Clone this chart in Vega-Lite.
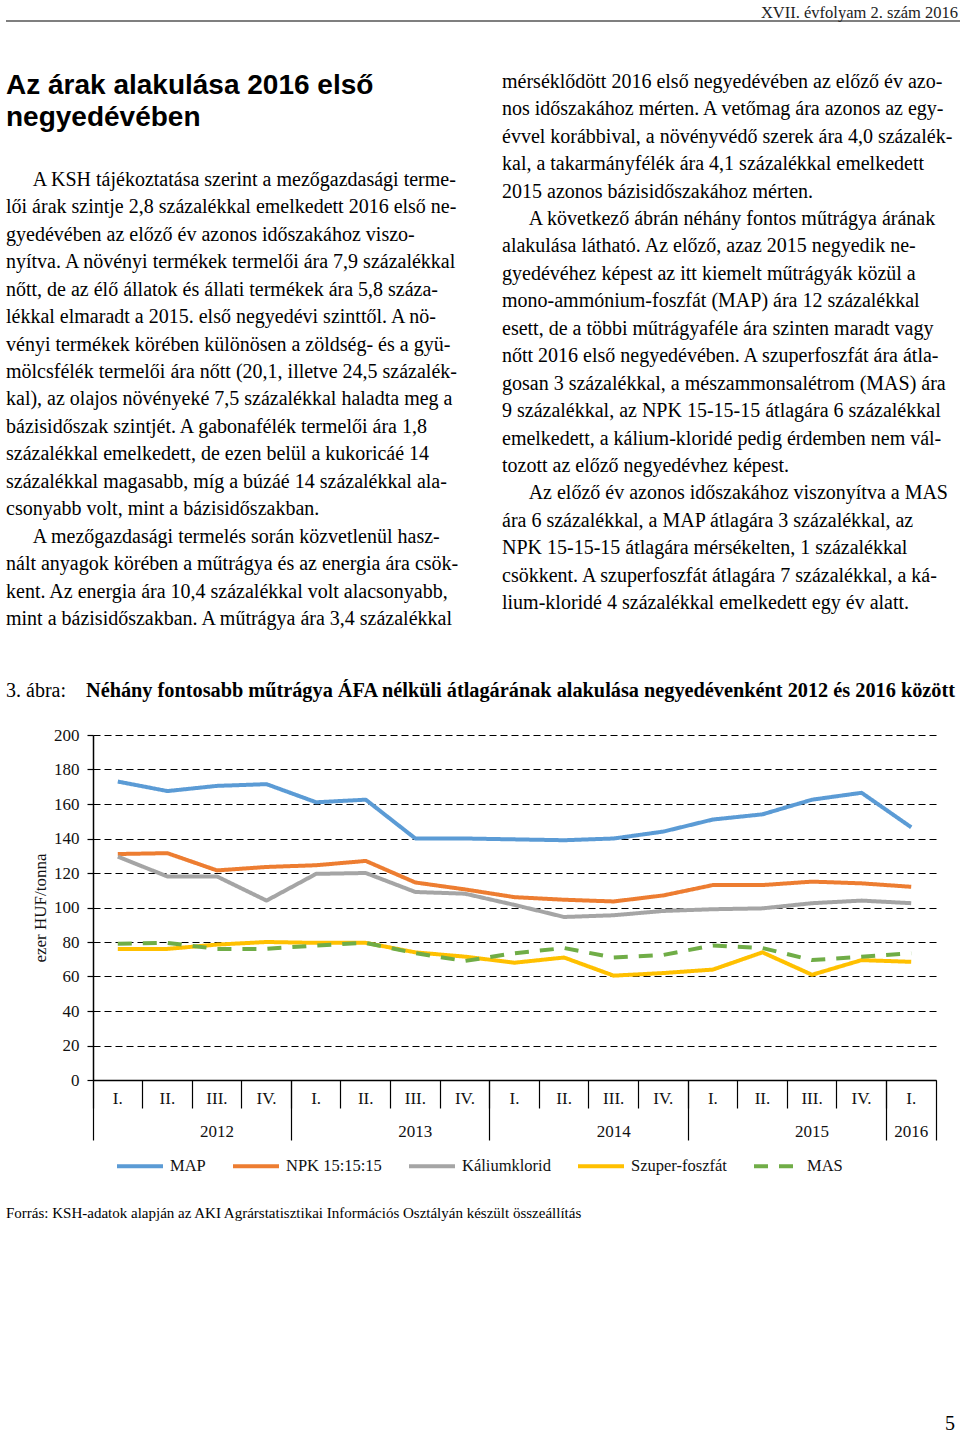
{
  "$schema": "https://vega.github.io/schema/vega-lite/v6.json",
  "padding": {"left": 5, "top": 0, "right": 0, "bottom": 0},
  "background": "white",
  "spacing": 0,
  "bounds": "full",
  "config": {"view": {"stroke": null}, "font": "Liberation Serif"},
  "datasets": {
    "header": [{"text": "XVII. évfolyam 2. szám 2016"}],
    "title": [
      {"line": 1, "text": "Az árak alakulása 2016 első"},
      {"line": 2, "text": "negyedévében"}
    ],
    "left": [
      {"line": 1, "text": "\u200b\u2003\u2004A KSH tájékoztatása szerint a mezőgazdasági terme-"},
      {"line": 2, "text": "lői árak szintje 2,8 százalékkal emelkedett 2016 első ne-"},
      {"line": 3, "text": "gyedévében az előző év azonos időszakához viszo-"},
      {"line": 4, "text": "nyítva. A növényi termékek termelői ára 7,9 százalékkal"},
      {"line": 5, "text": "nőtt, de az élő állatok és állati termékek ára 5,8 száza-"},
      {"line": 6, "text": "lékkal elmaradt a 2015. első negyedévi szinttől. A nö-"},
      {"line": 7, "text": "vényi termékek körében különösen a zöldség- és a gyü-"},
      {"line": 8, "text": "mölcsfélék termelői ára nőtt (20,1, illetve 24,5 százalék-"},
      {"line": 9, "text": "kal), az olajos növényeké 7,5 százalékkal haladta meg a"},
      {"line": 10, "text": "bázisidőszak szintjét. A gabonafélék termelői ára 1,8"},
      {"line": 11, "text": "százalékkal emelkedett, de ezen belül a kukoricáé 14"},
      {"line": 12, "text": "százalékkal magasabb, míg a búzáé 14 százalékkal ala-"},
      {"line": 13, "text": "csonyabb volt, mint a bázisidőszakban."},
      {"line": 14, "text": "\u200b\u2003\u2004A mezőgazdasági termelés során közvetlenül hasz-"},
      {"line": 15, "text": "nált anyagok körében a műtrágya és az energia ára csök-"},
      {"line": 16, "text": "kent. Az energia ára 10,4 százalékkal volt alacsonyabb,"},
      {"line": 17, "text": "mint a bázisidőszakban. A műtrágya ára 3,4 százalékkal"}
    ],
    "right": [
      {"line": 1, "text": "mérséklődött 2016 első negyedévében az előző év azo-"},
      {"line": 2, "text": "nos időszakához mérten. A vetőmag ára azonos az egy-"},
      {"line": 3, "text": "évvel korábbival, a növényvédő szerek ára 4,0 százalék-"},
      {"line": 4, "text": "kal, a takarmányfélék ára 4,1 százalékkal emelkedett"},
      {"line": 5, "text": "2015 azonos bázisidőszakához mérten."},
      {"line": 6, "text": "\u200b\u2003\u2004A következő ábrán néhány fontos műtrágya árának"},
      {"line": 7, "text": "alakulása látható. Az előző, azaz 2015 negyedik ne-"},
      {"line": 8, "text": "gyedévéhez képest az itt kiemelt műtrágyák közül a"},
      {"line": 9, "text": "mono-ammónium-foszfát (MAP) ára 12 százalékkal"},
      {"line": 10, "text": "esett, de a többi műtrágyaféle ára szinten maradt vagy"},
      {"line": 11, "text": "nőtt 2016 első negyedévében. A szuperfoszfát ára átla-"},
      {"line": 12, "text": "gosan 3 százalékkal, a mészammonsalétrom (MAS) ára"},
      {"line": 13, "text": "9 százalékkal, az NPK 15-15-15 átlagára 6 százalékkal"},
      {"line": 14, "text": "emelkedett, a kálium-kloridé pedig érdemben nem vál-"},
      {"line": 15, "text": "tozott az előző negyedévhez képest."},
      {"line": 16, "text": "\u200b\u2003\u2004Az előző év azonos időszakához viszonyítva a MAS"},
      {"line": 17, "text": "ára 6 százalékkal, a MAP átlagára 3 százalékkal, az"},
      {"line": 18, "text": "NPK 15-15-15 átlagára mérsékelten, 1 százalékkal"},
      {"line": 19, "text": "csökkent. A szuperfoszfát átlagára 7 százalékkal, a ká-"},
      {"line": 20, "text": "lium-kloridé 4 százalékkal emelkedett egy év alatt."}
    ],
    "prices": [
      {"period": "2012-I", "series": "MAP", "value": 173},
      {"period": "2012-II", "series": "MAP", "value": 167.5},
      {"period": "2012-III", "series": "MAP", "value": 170.5},
      {"period": "2012-IV", "series": "MAP", "value": 171.5},
      {"period": "2013-I", "series": "MAP", "value": 161},
      {"period": "2013-II", "series": "MAP", "value": 162.5},
      {"period": "2013-III", "series": "MAP", "value": 140},
      {"period": "2013-IV", "series": "MAP", "value": 140},
      {"period": "2014-I", "series": "MAP", "value": 139.5},
      {"period": "2014-II", "series": "MAP", "value": 139},
      {"period": "2014-III", "series": "MAP", "value": 140},
      {"period": "2014-IV", "series": "MAP", "value": 144},
      {"period": "2015-I", "series": "MAP", "value": 151},
      {"period": "2015-II", "series": "MAP", "value": 154},
      {"period": "2015-III", "series": "MAP", "value": 162.5},
      {"period": "2015-IV", "series": "MAP", "value": 166.5},
      {"period": "2016-I", "series": "MAP", "value": 146.5},
      {"period": "2012-I", "series": "NPK 15:15:15", "value": 131},
      {"period": "2012-II", "series": "NPK 15:15:15", "value": 131.5},
      {"period": "2012-III", "series": "NPK 15:15:15", "value": 121.5},
      {"period": "2012-IV", "series": "NPK 15:15:15", "value": 123.5},
      {"period": "2013-I", "series": "NPK 15:15:15", "value": 124.5},
      {"period": "2013-II", "series": "NPK 15:15:15", "value": 127},
      {"period": "2013-III", "series": "NPK 15:15:15", "value": 114.5},
      {"period": "2013-IV", "series": "NPK 15:15:15", "value": 110.5},
      {"period": "2014-I", "series": "NPK 15:15:15", "value": 106},
      {"period": "2014-II", "series": "NPK 15:15:15", "value": 104.5},
      {"period": "2014-III", "series": "NPK 15:15:15", "value": 103.5},
      {"period": "2014-IV", "series": "NPK 15:15:15", "value": 107},
      {"period": "2015-I", "series": "NPK 15:15:15", "value": 113},
      {"period": "2015-II", "series": "NPK 15:15:15", "value": 113},
      {"period": "2015-III", "series": "NPK 15:15:15", "value": 115},
      {"period": "2015-IV", "series": "NPK 15:15:15", "value": 114},
      {"period": "2016-I", "series": "NPK 15:15:15", "value": 112},
      {"period": "2012-I", "series": "Káliumklorid", "value": 129.5},
      {"period": "2012-II", "series": "Káliumklorid", "value": 118},
      {"period": "2012-III", "series": "Káliumklorid", "value": 118},
      {"period": "2012-IV", "series": "Káliumklorid", "value": 104},
      {"period": "2013-I", "series": "Káliumklorid", "value": 119.5},
      {"period": "2013-II", "series": "Káliumklorid", "value": 120},
      {"period": "2013-III", "series": "Káliumklorid", "value": 109},
      {"period": "2013-IV", "series": "Káliumklorid", "value": 108},
      {"period": "2014-I", "series": "Káliumklorid", "value": 101.5},
      {"period": "2014-II", "series": "Káliumklorid", "value": 94.5},
      {"period": "2014-III", "series": "Káliumklorid", "value": 95.5},
      {"period": "2014-IV", "series": "Káliumklorid", "value": 98},
      {"period": "2015-I", "series": "Káliumklorid", "value": 99},
      {"period": "2015-II", "series": "Káliumklorid", "value": 99.5},
      {"period": "2015-III", "series": "Káliumklorid", "value": 102.5},
      {"period": "2015-IV", "series": "Káliumklorid", "value": 104},
      {"period": "2016-I", "series": "Káliumklorid", "value": 102.5},
      {"period": "2012-I", "series": "Szuper-foszfát", "value": 76},
      {"period": "2012-II", "series": "Szuper-foszfát", "value": 76},
      {"period": "2012-III", "series": "Szuper-foszfát", "value": 78.5},
      {"period": "2012-IV", "series": "Szuper-foszfát", "value": 80},
      {"period": "2013-I", "series": "Szuper-foszfát", "value": 79.5},
      {"period": "2013-II", "series": "Szuper-foszfát", "value": 79.5},
      {"period": "2013-III", "series": "Szuper-foszfát", "value": 74},
      {"period": "2013-IV", "series": "Szuper-foszfát", "value": 71.5},
      {"period": "2014-I", "series": "Szuper-foszfát", "value": 68},
      {"period": "2014-II", "series": "Szuper-foszfát", "value": 71},
      {"period": "2014-III", "series": "Szuper-foszfát", "value": 60.5},
      {"period": "2014-IV", "series": "Szuper-foszfát", "value": 62},
      {"period": "2015-I", "series": "Szuper-foszfát", "value": 64},
      {"period": "2015-II", "series": "Szuper-foszfát", "value": 74},
      {"period": "2015-III", "series": "Szuper-foszfát", "value": 61},
      {"period": "2015-IV", "series": "Szuper-foszfát", "value": 69.5},
      {"period": "2016-I", "series": "Szuper-foszfát", "value": 68.5},
      {"period": "2012-I", "series": "MAS", "value": 79},
      {"period": "2012-II", "series": "MAS", "value": 79.5},
      {"period": "2012-III", "series": "MAS", "value": 76},
      {"period": "2012-IV", "series": "MAS", "value": 76},
      {"period": "2013-I", "series": "MAS", "value": 78},
      {"period": "2013-II", "series": "MAS", "value": 79.5},
      {"period": "2013-III", "series": "MAS", "value": 73.5},
      {"period": "2013-IV", "series": "MAS", "value": 69},
      {"period": "2014-I", "series": "MAS", "value": 73.5},
      {"period": "2014-II", "series": "MAS", "value": 76.5},
      {"period": "2014-III", "series": "MAS", "value": 71},
      {"period": "2014-IV", "series": "MAS", "value": 72.5},
      {"period": "2015-I", "series": "MAS", "value": 78},
      {"period": "2015-II", "series": "MAS", "value": 76.5},
      {"period": "2015-III", "series": "MAS", "value": 69.5},
      {"period": "2015-IV", "series": "MAS", "value": 71.5},
      {"period": "2016-I", "series": "MAS", "value": 73.5}
    ]
  },
  "vconcat": [
    {
      "width": 955,
      "height": 21,
      "data": {"name": "header"},
      "layer": [
        {
          "mark": {"type": "rule", "color": "#555555", "strokeWidth": 1.5},
          "encoding": {
            "x": {"datum": 0, "type": "quantitative", "scale": {"domain": [0, 1]}, "axis": null},
            "x2": {"datum": 1},
            "y": {"datum": 0, "type": "quantitative", "scale": {"domain": [0, 1]}, "axis": null}
          }
        },
        {
          "mark": {"type": "text", "align": "right", "baseline": "bottom", "fontSize": 16.5, "color": "#222222", "dx": -3},
          "encoding": {
            "x": {"datum": 1, "type": "quantitative"},
            "y": {"datum": 0, "type": "quantitative"},
            "text": {"field": "text"}
          }
        }
      ]
    },
    {
      "width": 10,
      "height": 45.25,
      "data": {"values": []},
      "mark": "point"
    },
    {
      "spacing": 0,
      "bounds": "full",
      "hconcat": [
        {
          "spacing": 29.1,
          "bounds": "flush",
          "vconcat": [
            {
              "width": 496,
              "height": 68.47,
              "data": {"name": "title"},
              "mark": {"type": "text", "align": "left", "baseline": "middle", "font": "Liberation Sans", "fontSize": 28, "fontWeight": "bold", "color": "#000000"},
              "encoding": {
                "x": {"datum": 0, "type": "quantitative", "scale": {"domain": [0, 1]}, "axis": null},
                "y": {"field": "line", "type": "ordinal", "scale": {"padding": 0.58}, "axis": null},
                "text": {"field": "text"}
              }
            },
            {
              "width": 496,
              "height": 466.65,
              "data": {"name": "left"},
              "mark": {"type": "text", "align": "left", "baseline": "middle", "fontSize": 20, "color": "#000000"},
              "encoding": {
                "x": {"datum": 0, "type": "quantitative", "scale": {"domain": [0, 1]}, "axis": null},
                "y": {"field": "line", "type": "ordinal", "scale": {"padding": 0.5}, "axis": null},
                "text": {"field": "text"}
              }
            }
          ]
        },
        {
          "width": 459,
          "height": 549,
          "data": {"name": "right"},
          "mark": {"type": "text", "align": "left", "baseline": "middle", "fontSize": 20, "color": "#000000"},
          "encoding": {
            "x": {"datum": 0, "type": "quantitative", "scale": {"domain": [0, 1]}, "axis": null},
            "y": {"field": "line", "type": "ordinal", "scale": {"padding": 0.5}, "axis": null},
            "text": {"field": "text"}
          }
        }
      ]
    },
    {
      "spacing": 0,
      "bounds": "flush",
      "hconcat": [
        {
          "width": 80,
          "height": 67.78,
          "data": {"values": [{"text": "3. ábra:"}]},
          "mark": {"type": "text", "align": "left", "baseline": "bottom", "fontSize": 20, "color": "#000000"},
          "encoding": {
            "x": {"datum": 0, "type": "quantitative", "scale": {"domain": [0, 1]}, "axis": null},
            "y": {"datum": 0, "type": "quantitative", "scale": {"domain": [0, 1]}, "axis": null},
            "text": {"field": "text"}
          }
        },
        {
          "width": 875,
          "height": 67.78,
          "data": {"values": [{"text": "Néhány fontosabb műtrágya ÁFA nélküli átlagárának alakulása negyedévenként 2012 és 2016 között"}]},
          "mark": {"type": "text", "align": "left", "baseline": "bottom", "fontSize": 20.3, "fontWeight": "bold", "color": "#000000"},
          "encoding": {
            "x": {"datum": 0, "type": "quantitative", "scale": {"domain": [0, 1]}, "axis": null},
            "y": {"datum": 0, "type": "quantitative", "scale": {"domain": [0, 1]}, "axis": null},
            "text": {"field": "text"}
          }
        }
      ]
    },
    {
      "width": 10,
      "height": 23.5,
      "data": {"values": []},
      "mark": "point"
    },
    {
      "spacing": 0,
      "bounds": "flush",
      "hconcat": [
        {
          "width": 87,
          "height": 345,
          "data": {"values": []},
          "mark": "point"
        },
        {
          "width": 843,
          "height": 345,
          "data": {"name": "prices"},
          "resolve": {"axis": {"x": "independent"}},
          "encoding": {
            "y": {
              "field": "value",
              "type": "quantitative",
              "scale": {"domain": [0, 200]},
              "axis": {
                "orient": "left",
                "values": [0, 20, 40, 60, 80, 100, 120, 140, 160, 180, 200],
                "labelOverlap": false,
                "grid": true,
                "gridDash": [7, 4],
                "gridColor": "#000000",
                "gridWidth": 1.2,
                "domain": true,
                "domainColor": "#000000",
                "domainWidth": 1.5,
                "ticks": true,
                "tickColor": "#000000",
                "tickSize": 6,
                "tickWidth": 1.2,
                "labelFont": "Liberation Serif",
                "labelFontSize": 17,
                "labelColor": "#111111",
                "labelPadding": 8,
                "title": "ezer HUF/tonna",
                "titleFont": "Liberation Serif",
                "titleFontSize": 17,
                "titleFontWeight": "normal",
                "titleColor": "#111111",
                "titlePadding": 4
              }
            }
          },
          "layer": [
            {
              "mark": {"type": "line", "strokeWidth": 4, "strokeJoin": "round"},
              "encoding": {
                "x": {
                  "field": "period",
                  "type": "ordinal",
                  "scale": {
                    "type": "band",
                    "domain": ["2012-I", "2012-II", "2012-III", "2012-IV", "2013-I", "2013-II", "2013-III", "2013-IV", "2014-I", "2014-II", "2014-III", "2014-IV", "2015-I", "2015-II", "2015-III", "2015-IV", "2016-I"],
                    "paddingInner": 0,
                    "paddingOuter": 0
                  },
                  "axis": {
                    "orient": "bottom",
                    "title": null,
                    "domain": true,
                    "domainColor": "#000000",
                    "domainWidth": 1.5,
                    "ticks": false,
                    "grid": false,
                    "bandPosition": 0.5,
                    "labelAngle": 0,
                    "labelExpr": "split(datum.value, '-')[1] + '.'",
                    "labelFont": "Liberation Serif",
                    "labelFontSize": 17,
                    "labelColor": "#111111",
                    "labelPadding": 10,
                    "zindex": 1
                  }
                },
                "color": {
                  "field": "series",
                  "type": "nominal",
                  "scale": {
                    "domain": ["MAP", "NPK 15:15:15", "Káliumklorid", "Szuper-foszfát", "MAS"],
                    "range": ["#5B9BD5", "#ED7D31", "#A5A5A5", "#FFC000", "#70AD47"]
                  },
                  "legend": {
                    "orient": "none",
                    "legendX": 109,
                    "legendY": 1141,
                    "direction": "horizontal",
                    "title": null,
                    "padding": 0,
                    "symbolType": "stroke",
                    "symbolSize": 2116,
                    "symbolStrokeWidth": 4,
                    "labelFont": "Liberation Serif",
                    "labelFontSize": 16.5,
                    "labelColor": "#111111",
                    "labelOffset": 5,
                    "columnPadding": 19
                  }
                },
                "strokeDash": {
                  "field": "series",
                  "type": "nominal",
                  "scale": {
                    "domain": ["MAP", "NPK 15:15:15", "Káliumklorid", "Szuper-foszfát", "MAS"],
                    "range": [[1, 0], [1, 0], [1, 0], [1, 0], [14, 11]]
                  },
                  "legend": {
                    "orient": "none",
                    "legendX": 109,
                    "legendY": 1141,
                    "direction": "horizontal",
                    "title": null,
                    "padding": 0,
                    "symbolType": "stroke",
                    "symbolSize": 2116,
                    "symbolStrokeWidth": 4,
                    "labelFont": "Liberation Serif",
                    "labelFontSize": 16.5,
                    "labelColor": "#111111",
                    "labelOffset": 5,
                    "columnPadding": 19
                  }
                }
              }
            },
            {
              "data": {"values": []},
              "mark": "point",
              "encoding": {
                "x": {
                  "field": "period",
                  "type": "ordinal",
                  "axis": {"orient": "bottom", "title": null, "domain": false, "labels": false, "grid": false, "ticks": true, "tickSize": 28, "tickColor": "#000000", "tickWidth": 1.2, "bandPosition": 0}
                }
              }
            },
            {
              "data": {"values": []},
              "mark": "point",
              "encoding": {
                "x": {
                  "field": "period",
                  "type": "ordinal",
                  "axis": {"orient": "bottom", "title": null, "domain": false, "labels": false, "grid": false, "ticks": true, "tickSize": 60, "tickColor": "#000000", "tickWidth": 1.2, "bandPosition": 0, "values": ["2012-I", "2013-I", "2014-I", "2015-I", "2016-I"]}
                }
              }
            },
            {
              "data": {"values": []},
              "mark": "point",
              "encoding": {
                "x": {
                  "field": "period",
                  "type": "ordinal",
                  "axis": {"orient": "bottom", "title": null, "domain": false, "labels": false, "grid": false, "ticks": true, "tickSize": 60, "tickColor": "#000000", "tickWidth": 1.2, "bandPosition": 1, "values": ["2016-I"]}
                }
              }
            },
            {
              "data": {"values": []},
              "mark": "point",
              "encoding": {
                "x": {
                  "field": "period",
                  "type": "ordinal",
                  "axis": {"orient": "bottom", "title": null, "domain": false, "ticks": false, "grid": false, "bandPosition": 0, "values": ["2012-III", "2013-III", "2014-III", "2015-III"], "labelAngle": 0, "labelExpr": "split(datum.value, '-')[0]", "labelFont": "Liberation Serif", "labelFontSize": 17, "labelColor": "#111111", "labelPadding": 43}
                }
              }
            },
            {
              "data": {"values": []},
              "mark": "point",
              "encoding": {
                "x": {
                  "field": "period",
                  "type": "ordinal",
                  "axis": {"orient": "bottom", "title": null, "domain": false, "ticks": false, "grid": false, "bandPosition": 0.5, "values": ["2016-I"], "labelAngle": 0, "labelExpr": "split(datum.value, '-')[0]", "labelFont": "Liberation Serif", "labelFontSize": 17, "labelColor": "#111111", "labelPadding": 43}
                }
              }
            }
          ]
        }
      ]
    },
    {
      "width": 955,
      "height": 80,
      "data": {"values": [{"text": "Forrás: KSH-adatok alapján az AKI Agrárstatisztikai Információs Osztályán készült összeállítás"}]},
      "mark": {"type": "text", "align": "left", "baseline": "bottom", "fontSize": 15, "color": "#000000"},
      "encoding": {
        "x": {"datum": 0, "type": "quantitative", "scale": {"domain": [0, 1]}, "axis": null},
        "y": {"datum": 0, "type": "quantitative", "scale": {"domain": [0, 1]}, "axis": null},
        "text": {"field": "text"}
      }
    },
    {
      "width": 955,
      "height": 213,
      "data": {"values": [{"text": "5"}]},
      "mark": {"type": "text", "align": "right", "baseline": "bottom", "fontSize": 20, "color": "#000000", "dx": -6},
      "encoding": {
        "x": {"datum": 1, "type": "quantitative", "scale": {"domain": [0, 1]}, "axis": null},
        "y": {"datum": 0, "type": "quantitative", "scale": {"domain": [0, 1]}, "axis": null},
        "text": {"field": "text"}
      }
    }
  ]
}
